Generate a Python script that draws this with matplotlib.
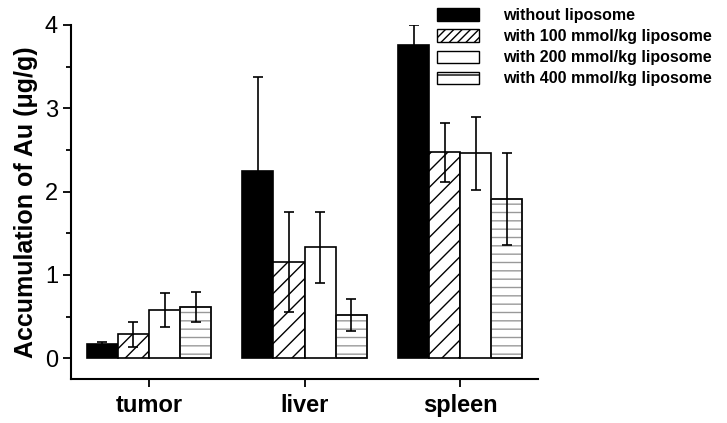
import numpy as np
import matplotlib
matplotlib.use("Agg")
import matplotlib.pyplot as plt
from matplotlib.ticker import MultipleLocator
from matplotlib.patches import Patch

plt.rcParams['font.family'] = ['Liberation Sans', 'DejaVu Sans']
plt.rcParams['hatch.linewidth'] = 1.0

organs = ["tumor", "liver", "spleen"]
series = ["without liposome", "with 100 mmol/kg liposome",
          "with 200 mmol/kg liposome", "with 400 mmol/kg liposome"]
means = [[0.17, 2.25, 3.76],
         [0.29, 1.15, 2.47],
         [0.58, 1.33, 2.46],
         [0.61, 0.52, 1.91]]
errs = [[0.02, 1.13, 0.24],
        [0.15, 0.60, 0.35],
        [0.20, 0.43, 0.44],
        [0.18, 0.19, 0.55]]

fig = plt.figure(figsize=(7.27, 4.23), dpi=100)
ax = fig.add_axes([0.098, 0.104, 0.642, 0.837])

x = np.arange(1, len(organs) + 1)
w = 0.2
styles = [dict(color="black", edgecolor="black"),
          dict(color="white", edgecolor="black", hatch="//"),
          dict(color="white", edgecolor="black"),
          dict(color="white", edgecolor="#999999", hatch="--")]
for i in range(4):
    pos = x + (i - 1.5) * w
    ax.bar(pos, means[i], w, linewidth=1.2, zorder=2, **styles[i])
    if i == 3:
        # black outline over the grey hatch
        ax.bar(pos, means[i], w, fill=False, edgecolor="black",
               linewidth=1.2, zorder=3)
    ax.errorbar(pos, means[i], yerr=errs[i], fmt="none", ecolor="black",
                elinewidth=1.2, capsize=3.5, capthick=1.2, zorder=4)

ax.set_xlim(0.5, 3.5)
ax.set_ylim(-0.25, 4.0)
ax.set_xticks(x)
ax.set_xticklabels(organs, fontsize=17, fontweight="bold")
ax.yaxis.set_major_locator(MultipleLocator(1))
ax.yaxis.set_minor_locator(MultipleLocator(0.5))
ax.tick_params(axis="y", labelsize=17, width=1.3, length=6)
ax.tick_params(axis="y", which="minor", width=1.3, length=3.5)
ax.tick_params(axis="x", width=1.3, length=6, pad=5)
ax.set_ylabel("Accumulation of Au (\u03bcg/g)", fontsize=18, fontweight="bold",
              labelpad=5)
for s in ["top", "right"]:
    ax.spines[s].set_visible(False)
for s in ["left", "bottom"]:
    ax.spines[s].set_linewidth(1.5)

leg_handles = [Patch(facecolor="black", edgecolor="black"),
               Patch(facecolor="white", edgecolor="black", hatch="////"),
               Patch(facecolor="white", edgecolor="black"),
               Patch(facecolor="white", edgecolor="black", hatch="-")]
fig.legend(leg_handles, series, loc="upper left", bbox_to_anchor=(0.582, 1.015),
           frameon=False, prop=dict(weight="bold", size=11.5),
           handlelength=2.6, handleheight=0.8, handletextpad=1.5,
           labelspacing=0.38)

fig.savefig("out.png", dpi=100)
